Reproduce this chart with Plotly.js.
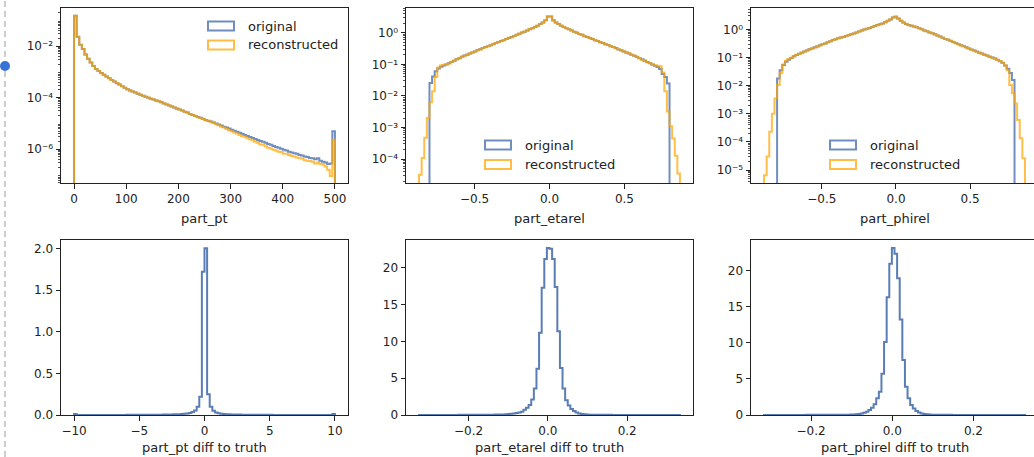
<!DOCTYPE html>
<html>
<head>
<meta charset="utf-8">
<script src="https://cdn.plot.ly/plotly-3.0.1.min.js"></script>
<style>
html,body{margin:0;padding:0;overflow:hidden;background:#fff}
#chart{width:1040px;height:457px}
</style>
</head>
<body>
<div id="chart"></div>
<script>
// ---------------- DATA ----------------
const seriesNames = ["original", "reconstructed"];
const xLabels = ["part_pt", "part_etarel", "part_phirel",
                 "part_pt diff to truth", "part_etarel diff to truth", "part_phirel diff to truth"];

// part_pt: 100 bins starting at 0, width 5
const ptBinStart = 0, ptBinWidth = 5;
const ptOriginal = [
 0.148,0.0229,0.0112,0.0076,0.0047,0.0032,0.0023,0.00166,0.00129,0.00107,
 8.9e-4,7.6e-4,6.5e-4,5.6e-4,4.8e-4,4.2e-4,3.6e-4,3.2e-4,2.75e-4,2.4e-4,
 2.1e-4,1.86e-4,1.7e-4,1.55e-4,1.41e-4,1.29e-4,1.17e-4,1.07e-4,9.8e-5,8.9e-5,
 8.3e-5,7.6e-5,7.1e-5,6.5e-5,5.9e-5,5.4e-5,4.9e-5,4.5e-5,4.1e-5,3.7e-5,
 3.4e-5,3.1e-5,2.8e-5,2.6e-5,2.3e-5,2.1e-5,1.9e-5,1.74e-5,1.62e-5,1.48e-5,
 1.35e-5,1.26e-5,1.17e-5,1.07e-5,9.8e-6,8.9e-6,8.1e-6,7.4e-6,6.8e-6,6.2e-6,
 5.6e-6,5.1e-6,4.7e-6,4.3e-6,3.9e-6,3.5e-6,3.2e-6,2.95e-6,2.7e-6,2.45e-6,
 2.24e-6,2.04e-6,1.9e-6,1.74e-6,1.58e-6,1.48e-6,1.32e-6,1.2e-6,1.12e-6,1.02e-6,
 9.3e-7,8.7e-7,7.9e-7,7.4e-7,6.8e-7,6.5e-7,5.9e-7,5.6e-7,5.1e-7,4.9e-7,
 4.5e-7,4.4e-7,4.0e-7,4.4e-7,3.5e-7,3.2e-7,3.0e-7,2.6e-7,2.75e-7,4.9e-6];
const ptReconstructed = [
 0.150,0.0225,0.0110,0.0077,0.0046,0.0032,0.0023,0.00168,0.00128,0.00106,
 8.8e-4,7.7e-4,6.5e-4,5.7e-4,4.8e-4,4.2e-4,3.7e-4,3.2e-4,2.8e-4,2.4e-4,
 2.1e-4,1.88e-4,1.7e-4,1.56e-4,1.42e-4,1.29e-4,1.18e-4,1.08e-4,9.9e-5,9.0e-5,
 8.4e-5,7.7e-5,7.1e-5,6.6e-5,6.0e-5,5.5e-5,5.0e-5,4.5e-5,4.1e-5,3.8e-5,
 3.4e-5,3.1e-5,2.8e-5,2.6e-5,2.3e-5,2.1e-5,1.9e-5,1.72e-5,1.6e-5,1.45e-5,
 1.32e-5,1.22e-5,1.13e-5,1.05e-5,9.3e-6,8.3e-6,7.4e-6,6.8e-6,6.0e-6,5.4e-6,
 4.9e-6,4.4e-6,4.0e-6,3.5e-6,3.2e-6,3.0e-6,2.6e-6,2.4e-6,2.2e-6,1.9e-6,
 1.74e-6,1.51e-6,1.45e-6,1.29e-6,1.12e-6,1.05e-6,9.3e-7,8.7e-7,7.9e-7,7.6e-7,
 6.6e-7,6.5e-7,5.8e-7,5.4e-7,5.1e-7,4.7e-7,4.4e-7,4.3e-7,3.7e-7,3.5e-7,
 3.4e-7,3.2e-7,2.75e-7,3.0e-7,2.6e-7,2.5e-7,2.1e-7,1.55e-7,8.9e-8,2.3e-6];

// part_etarel: 100 bins starting at -0.87, width 0.0174
const etaBinStart = -0.87, etaBinWidth = 0.0174;
const etaOriginal = [
 0,0,0,0,0.0257,0.0417,0.0603,0.0741,0.0851,0.0933,
 0.100,0.110,0.120,0.132,0.145,0.158,0.174,0.191,0.204,0.224,
 0.240,0.257,0.282,0.302,0.331,0.355,0.380,0.407,0.437,0.479,
 0.513,0.550,0.589,0.646,0.692,0.741,0.794,0.871,0.933,1.023,
 1.096,1.202,1.318,1.413,1.549,1.698,1.905,2.138,2.512,3.311,
 3.30,2.50,2.12,1.90,1.70,1.54,1.41,1.31,1.20,1.09,
 1.02,0.93,0.87,0.79,0.74,0.69,0.64,0.59,0.55,0.51,
 0.48,0.44,0.41,0.38,0.355,0.33,0.30,0.28,0.255,0.24,
 0.222,0.204,0.19,0.174,0.158,0.145,0.132,0.12,0.11,0.10,
 0.091,0.083,0.072,0.050,0.040,0.025,0,0,0,0];
const etaReconstructed = [
 3.2e-5,1.07e-4,4.7e-4,0.0020,0.0063,0.0141,0.0398,0.0794,0.0933,0.0977,
 0.102,0.108,0.121,0.131,0.147,0.157,0.176,0.189,0.206,0.222,
 0.243,0.255,0.285,0.300,0.334,0.352,0.384,0.404,0.441,0.475,
 0.518,0.546,0.595,0.640,0.699,0.735,0.802,0.864,0.942,1.015,
 1.105,1.195,1.330,1.405,1.560,1.690,1.920,2.125,2.530,3.330,
 3.32,2.48,2.14,1.88,1.72,1.53,1.42,1.30,1.21,1.08,
 1.03,0.92,0.88,0.78,0.75,0.68,0.65,0.585,0.555,0.505,
 0.485,0.435,0.415,0.375,0.36,0.325,0.305,0.275,0.26,0.236,
 0.225,0.20,0.193,0.171,0.161,0.142,0.135,0.118,0.112,0.099,
 0.095,0.091,0.087,0.056,0.0141,0.0032,0.0011,4.5e-4,1.26e-4,3.5e-5];

// part_phirel: 100 bins starting at -0.89, width 0.0176
const phiBinStart = -0.89, phiBinWidth = 0.0176;
const phiOriginal = [
 0,0,0,0,0,0.018,0.035,0.054,0.071,0.083,
 0.0955,0.110,0.123,0.135,0.148,0.162,0.178,0.195,0.209,0.229,
 0.245,0.269,0.295,0.316,0.347,0.380,0.417,0.447,0.479,0.513,
 0.537,0.575,0.617,0.661,0.708,0.776,0.832,0.912,0.977,1.047,
 1.122,1.202,1.318,1.413,1.514,1.622,1.778,1.995,2.239,2.630,
 2.818,2.399,1.995,1.738,1.549,1.413,1.350,1.259,1.175,1.096,
 1.000,0.912,0.851,0.776,0.724,0.661,0.603,0.550,0.501,0.457,
 0.427,0.389,0.355,0.324,0.295,0.269,0.251,0.229,0.209,0.191,
 0.178,0.162,0.148,0.138,0.126,0.117,0.107,0.100,0.091,0.083,
 0.074,0.065,0.052,0.040,0.028,0.0158,0,0,0,0];
const phiReconstructed = [
 6.6e-6,3.0e-5,2.3e-4,0.0010,0.0035,0.0105,0.028,0.056,0.076,0.089,
 0.097,0.108,0.125,0.133,0.150,0.160,0.180,0.193,0.212,0.226,
 0.248,0.266,0.298,0.313,0.351,0.376,0.421,0.443,0.484,0.508,
 0.542,0.570,0.623,0.655,0.715,0.769,0.840,0.905,0.985,1.040,
 1.130,1.195,1.330,1.405,1.525,1.612,1.790,1.985,2.255,2.650,
 2.840,2.380,2.010,1.725,1.560,1.405,1.360,1.250,1.185,1.088,
 1.008,0.905,0.858,0.770,0.730,0.655,0.608,0.545,0.505,0.453,
 0.431,0.385,0.358,0.321,0.298,0.266,0.253,0.227,0.211,0.189,
 0.180,0.160,0.150,0.136,0.128,0.115,0.109,0.098,0.092,0.081,
 0.075,0.064,0.052,0.035,0.0105,0.0054,0.0023,6.0e-4,1.35e-4,2.6e-5];

// diff to truth histograms
const ptDiffBinStart = -10, ptDiffBinWidth = 0.2;
const ptDiff = [
 0.012,0.001,0.001,0.001,0.001,0.001,0.001,0.001,0.001,0.001,
 0.001,0.001,0.001,0.001,0.001,0.001,0.001,0.001,0.001,0.001,
 0.002,0.002,0.002,0.002,0.002,0.002,0.002,0.002,0.003,0.003,
 0.003,0.003,0.004,0.004,0.005,0.005,0.006,0.007,0.008,0.009,
 0.010,0.012,0.014,0.018,0.025,0.035,0.055,0.10,0.22,1.72,
 2.00,0.25,0.10,0.05,0.03,0.022,0.016,0.012,0.010,0.008,
 0.007,0.006,0.005,0.005,0.004,0.004,0.003,0.003,0.003,0.002,
 0.002,0.002,0.002,0.002,0.002,0.002,0.001,0.001,0.001,0.001,
 0.001,0.001,0.001,0.001,0.001,0.001,0.001,0.001,0.001,0.001,
 0.001,0.001,0.001,0.001,0.001,0.001,0.001,0.001,0.001,0.012];

const etaDiffBinStart = -0.325, etaDiffBinWidth = 0.00658;
const etaDiff = [
 0.01,0.01,0.01,0.01,0.01,0.01,0.01,0.01,0.01,0.01,
 0.01,0.01,0.01,0.01,0.01,0.02,0.02,0.02,0.02,0.02,
 0.02,0.02,0.03,0.03,0.03,0.04,0.04,0.05,0.05,0.06,
 0.06,0.07,0.08,0.10,0.13,0.17,0.22,0.28,0.35,0.45,
 0.70,1.00,1.35,2.10,3.60,6.30,11.2,17.3,21.2,22.7,
 22.6,21.2,17.4,11.4,6.40,3.60,2.00,1.30,0.80,0.55,
 0.35,0.22,0.15,0.10,0.07,0.05,0.04,0.03,0.03,0.02,
 0.02,0.02,0.02,0.02,0.01,0.01,0.01,0.01,0.01,0.01,
 0.01,0.01,0.01,0.01,0.01,0.01,0.01,0.01,0.01,0.01,
 0.01,0.01,0.01,0.01,0.01,0.01,0.01,0.01,0.01,0.01];

const phiDiffBinStart = -0.316, phiDiffBinWidth = 0.00643;
const phiDiff = [
 0.01,0.01,0.01,0.01,0.01,0.01,0.01,0.01,0.01,0.01,
 0.01,0.01,0.01,0.01,0.01,0.01,0.02,0.02,0.02,0.02,
 0.02,0.02,0.02,0.03,0.03,0.03,0.03,0.04,0.04,0.04,
 0.04,0.045,0.05,0.06,0.08,0.10,0.15,0.22,0.32,0.46,
 0.70,1.00,1.50,2.30,3.20,5.70,10.1,16.3,20.9,23.1,
 22.3,18.9,13.2,7.60,3.90,2.30,1.40,0.90,0.55,0.35,
 0.22,0.15,0.10,0.07,0.05,0.04,0.03,0.03,0.02,0.02,
 0.02,0.02,0.01,0.01,0.01,0.01,0.01,0.01,0.01,0.01,
 0.01,0.01,0.01,0.01,0.01,0.01,0.01,0.01,0.01,0.01,
 0.01,0.01,0.01,0.01,0.01,0.01,0.01,0.01,0.01,0.01];

// ---------------- STYLE / LAYOUT ----------------
const W = 1040, H = 457;
const FONT = "DejaVu Sans";
const INK = "#222222";
const BLUE = "#4c72b0", ORANGE = "#ffa500";
const BLUE_OP = 0.8, BLUE_OP_DIFF = 0.92, ORANGE_OP = 0.72;
const LOG_FLOOR = 1e-12;

const px = v => v / W;
const py = v => 1 - v / H;

// panel frames in pixels [left, right, top, bottom]
const frames = [
  [61, 348, 8, 183], [406, 693, 8, 183], [751, 1038, 8, 183],
  [61, 348, 240, 415], [406, 693, 240, 415], [751, 1038, 240, 415]
];

function stepTrace(start, width, values, idx, color, op, floor) {
  const n = values.length;
  const x = [start], y = [floor];
  for (let i = 0; i < n; i++) {
    x.push(start + i * width);
    y.push(values[i] > 0 ? values[i] : floor);
  }
  x.push(start + n * width); y.push(values[n - 1] > 0 ? values[n - 1] : floor);
  x.push(start + n * width); y.push(floor);
  const s = idx === 1 ? "" : String(idx);
  return {
    type: "scatter", mode: "lines", x: x, y: y,
    xaxis: "x" + s, yaxis: "y" + s,
    line: {shape: "hv", color: color, width: 2},
    opacity: op, hoverinfo: "skip", showlegend: false, cliponaxis: true
  };
}

const traces = [
  stepTrace(ptBinStart, ptBinWidth, ptOriginal, 1, BLUE, BLUE_OP, LOG_FLOOR),
  stepTrace(ptBinStart, ptBinWidth, ptReconstructed, 1, ORANGE, ORANGE_OP, LOG_FLOOR),
  stepTrace(etaBinStart, etaBinWidth, etaOriginal, 2, BLUE, BLUE_OP, LOG_FLOOR),
  stepTrace(etaBinStart, etaBinWidth, etaReconstructed, 2, ORANGE, ORANGE_OP, LOG_FLOOR),
  stepTrace(phiBinStart, phiBinWidth, phiOriginal, 3, BLUE, BLUE_OP, LOG_FLOOR),
  stepTrace(phiBinStart, phiBinWidth, phiReconstructed, 3, ORANGE, ORANGE_OP, LOG_FLOOR),
  stepTrace(ptDiffBinStart, ptDiffBinWidth, ptDiff, 4, BLUE, BLUE_OP_DIFF, 0),
  stepTrace(etaDiffBinStart, etaDiffBinWidth, etaDiff, 5, BLUE, BLUE_OP_DIFF, 0),
  stepTrace(phiDiffBinStart, phiDiffBinWidth, phiDiff, 6, BLUE, BLUE_OP_DIFF, 0)
];

const SUP = {"0": "\u2070", "1": "\u00b9", "2": "\u00b2", "3": "\u00b3", "4": "\u2074",
             "5": "\u2075", "6": "\u2076", "7": "\u2077", "8": "\u2078", "9": "\u2079"};
function pow10Label(p) {
  const digits = String(Math.abs(p)).split("").map(c => SUP[c]).join("");
  return "10" + (p < 0 ? "\u207b" : "") + digits;
}
function logMinor(lo, hi) {
  const out = [];
  for (let d = Math.floor(lo); d <= Math.ceil(hi); d++)
    for (let k = 2; k <= 9; k++) out.push(k * Math.pow(10, d));
  return out;
}

function baseAxis(frame, isX) {
  return {
    domain: isX ? [px(frame[0]), px(frame[1])] : [py(frame[3]), py(frame[2])],
    showline: true, mirror: true, linecolor: INK, linewidth: 1,
    ticks: "outside", ticklen: 4.5, tickwidth: 1, tickcolor: INK,
    showgrid: false, zeroline: false, fixedrange: true,
    tickfont: {family: FONT, size: 12, color: INK},
    automargin: false
  };
}

const layout = {
  width: W, height: H,
  margin: {l: 0, r: 0, t: 0, b: 0, pad: 0},
  paper_bgcolor: "#ffffff", plot_bgcolor: "#ffffff",
  showlegend: false,
  font: {family: FONT, size: 12, color: INK},
  shapes: [], annotations: []
};

// log panels
const logSpecs = [
  {range: [-7.32, -0.524], ticks: [-6, -4, -2]},
  {range: [-4.76, 0.79], ticks: [-4, -3, -2, -1, 0]},
  {range: [-5.46, 0.757], ticks: [-5, -4, -3, -2, -1, 0]}
];
const xSpecs = [
  {range: [-25, 525], dtick: 100, fmt: "d"},
  {range: [-0.957, 0.957], dtick: 0.5, fmt: ".1f"},
  {range: [-0.978, 0.958], dtick: 0.5, fmt: ".1f"},
  {range: [-11, 11], dtick: 5, fmt: "d"},
  {range: [-0.358, 0.366], dtick: 0.2, fmt: ".1f"},
  {range: [-0.348, 0.359], dtick: 0.2, fmt: ".1f"}
];
const linYSpecs = [
  {range: [0, 2.1], dtick: 0.5, fmt: ".1f"},
  {range: [0, 23.8], dtick: 5, fmt: "d"},
  {range: [0, 24.2], dtick: 5, fmt: "d"}
];

for (let i = 0; i < 6; i++) {
  const s = i === 0 ? "" : String(i + 1);
  const xa = baseAxis(frames[i], true);
  xa.anchor = "y" + s;
  xa.range = xSpecs[i].range;
  xa.tickmode = "linear"; xa.tick0 = 0; xa.dtick = xSpecs[i].dtick;
  xa.tickformat = xSpecs[i].fmt;
  layout["xaxis" + s] = xa;

  const ya = baseAxis(frames[i], false);
  ya.anchor = "x" + s;
  if (i < 3) {
    const L = logSpecs[i];
    ya.type = "log";
    ya.range = L.range;
    ya.tickmode = "array";
    ya.tickvals = L.ticks.map(p => Math.pow(10, p));
    ya.ticktext = L.ticks.map(pow10Label);
    ya.minor = {tickmode: "array", tickvals: logMinor(L.range[0], L.range[1]),
                ticks: "outside", ticklen: 2.5, tickwidth: 0.8, tickcolor: INK, showgrid: false};
  } else {
    const Ls = linYSpecs[i - 3];
    ya.range = Ls.range;
    ya.tickmode = "linear"; ya.tick0 = 0; ya.dtick = Ls.dtick;
    ya.tickformat = Ls.fmt;
  }
  layout["yaxis" + s] = ya;

  // x axis label
  const f = frames[i];
  layout.annotations.push({
    text: xLabels[i], xref: "paper", yref: "paper",
    x: px((f[0] + f[1]) / 2), y: py(i < 3 ? 218 : 447),
    xanchor: "center", yanchor: "middle", showarrow: false,
    font: {family: FONT, size: 13, color: INK}
  });
}

// legends (unfilled rectangle handles like matplotlib step histograms)
const legendSpots = [
  {hx: 208, tx: 246, y0: 26, y1: 45},
  {hx: 485, tx: 523, y0: 145, y1: 164.5},
  {hx: 830, tx: 868, y0: 145, y1: 164.5}
];
const legendColors = [[BLUE, BLUE_OP], [ORANGE, ORANGE_OP]];
legendSpots.forEach(L => {
  [L.y0, L.y1].forEach((yc, k) => {
    layout.shapes.push({
      type: "rect", xref: "paper", yref: "paper",
      x0: px(L.hx), x1: px(L.hx + 26), y0: py(yc + 4.5), y1: py(yc - 4.5),
      line: {color: legendColors[k][0], width: 2}, fillcolor: "rgba(0,0,0,0)",
      opacity: legendColors[k][1]
    });
    layout.annotations.push({
      text: seriesNames[k], xref: "paper", yref: "paper",
      x: px(L.tx), y: py(yc), xanchor: "left", yanchor: "middle",
      showarrow: false, font: {family: FONT, size: 13, color: INK}
    });
  });
});

// notebook gutter: dashed guide line and marker dot
layout.shapes.push({
  type: "line", xref: "paper", yref: "paper",
  x0: px(5), x1: px(5), y0: 0, y1: 1,
  line: {color: "#9a9a9a", width: 1, dash: "6px,4px"}
});
layout.shapes.push({
  type: "circle", xref: "paper", yref: "paper",
  x0: px(0), x1: px(10), y0: py(71), y1: py(61),
  fillcolor: "#3673d4", line: {width: 0}
});

Plotly.newPlot("chart", traces, layout, {staticPlot: true, displayModeBar: false});
</script>
</body>
</html>
